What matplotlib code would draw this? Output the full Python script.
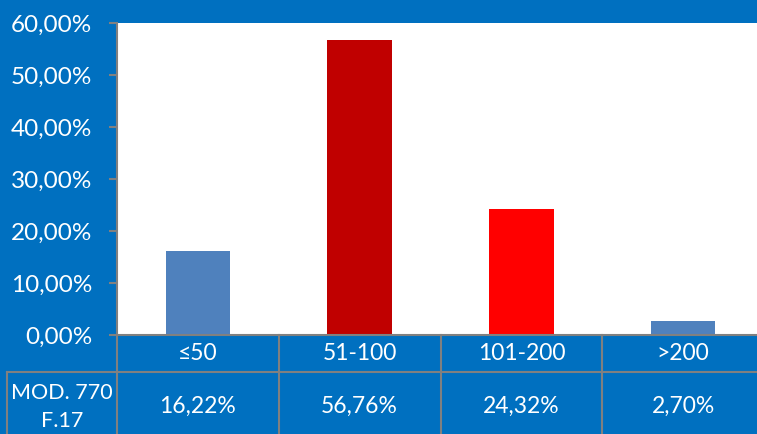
import matplotlib

matplotlib.use("Agg")
import matplotlib.pyplot as plt
from matplotlib.lines import Line2D
from matplotlib.transforms import blended_transform_factory

categories = ["≤50", "51-100", "101-200", ">200"]
shares = [16.22, 56.76, 24.32, 2.70]
bar_colors = ["#4F81BD", "#C00000", "#FF0000", "#4F81BD"]
row_label = "MOD. 770\nF.17"
y_ticks = [0, 10, 20, 30, 40, 50, 60]

BG = "#0070C0"
GRID = "#808080"
W, H = 757, 434

plt.rcParams["font.family"] = ["Lato", "DejaVu Sans"]


def pct(v):
    return f"{v:.2f}".replace(".", ",") + "%"


def fy(px):
    # pixel row from the top -> figure fraction
    return 1 - px / H


fig = plt.figure(figsize=(W / 100, H / 100), dpi=100, facecolor=BG)
ax = fig.add_axes([117 / W, fy(335), (764 - 117) / W, (335 - 23) / H])
ax.set_facecolor("white")

x = list(range(len(categories)))
ax.bar(x, shares, width=0.4, color=bar_colors)
ax.set_xlim(-0.5, len(categories) - 0.5)
ax.set_ylim(0, 60)
ax.set_yticks(y_ticks)
ax.set_yticklabels([pct(v) for v in y_ticks])
ax.set_xticks([])
ax.tick_params(axis="y", direction="out", length=6, width=1.5, color=GRID,
               labelcolor="white", labelsize=17.5, pad=12)
for side in ("top", "right"):
    ax.spines[side].set_visible(False)
for side in ("left", "bottom"):
    ax.spines[side].set_color(GRID)
    ax.spines[side].set_linewidth(1.5)

# data table under the axis
trans = blended_transform_factory(ax.transData, fig.transFigure)
for edge in [i - 0.5 for i in range(len(categories) + 1)]:
    fig.add_artist(Line2D([edge, edge], [fy(335), fy(440)], transform=trans,
                          color=GRID, lw=1.5))
fig.add_artist(Line2D([7 / W, 1.0], [fy(372), fy(372)], transform=fig.transFigure,
                      color=GRID, lw=1.5))
fig.add_artist(Line2D([7 / W, 7 / W], [fy(372), fy(440)], transform=fig.transFigure,
                      color=GRID, lw=1.5))

for i, (cat, val) in enumerate(zip(categories, shares)):
    fig.text(i, fy(354), cat, transform=trans, ha="center", va="center",
             color="white", fontsize=16.5)
    fig.text(i, fy(406), pct(val), transform=trans, ha="center", va="center",
             color="white", fontsize=16.5)
fig.text(62 / W, fy(407), row_label, ha="center", va="center", color="white",
         fontsize=15.5, linespacing=1.45)

fig.savefig("out.png", dpi=100, facecolor=BG)
